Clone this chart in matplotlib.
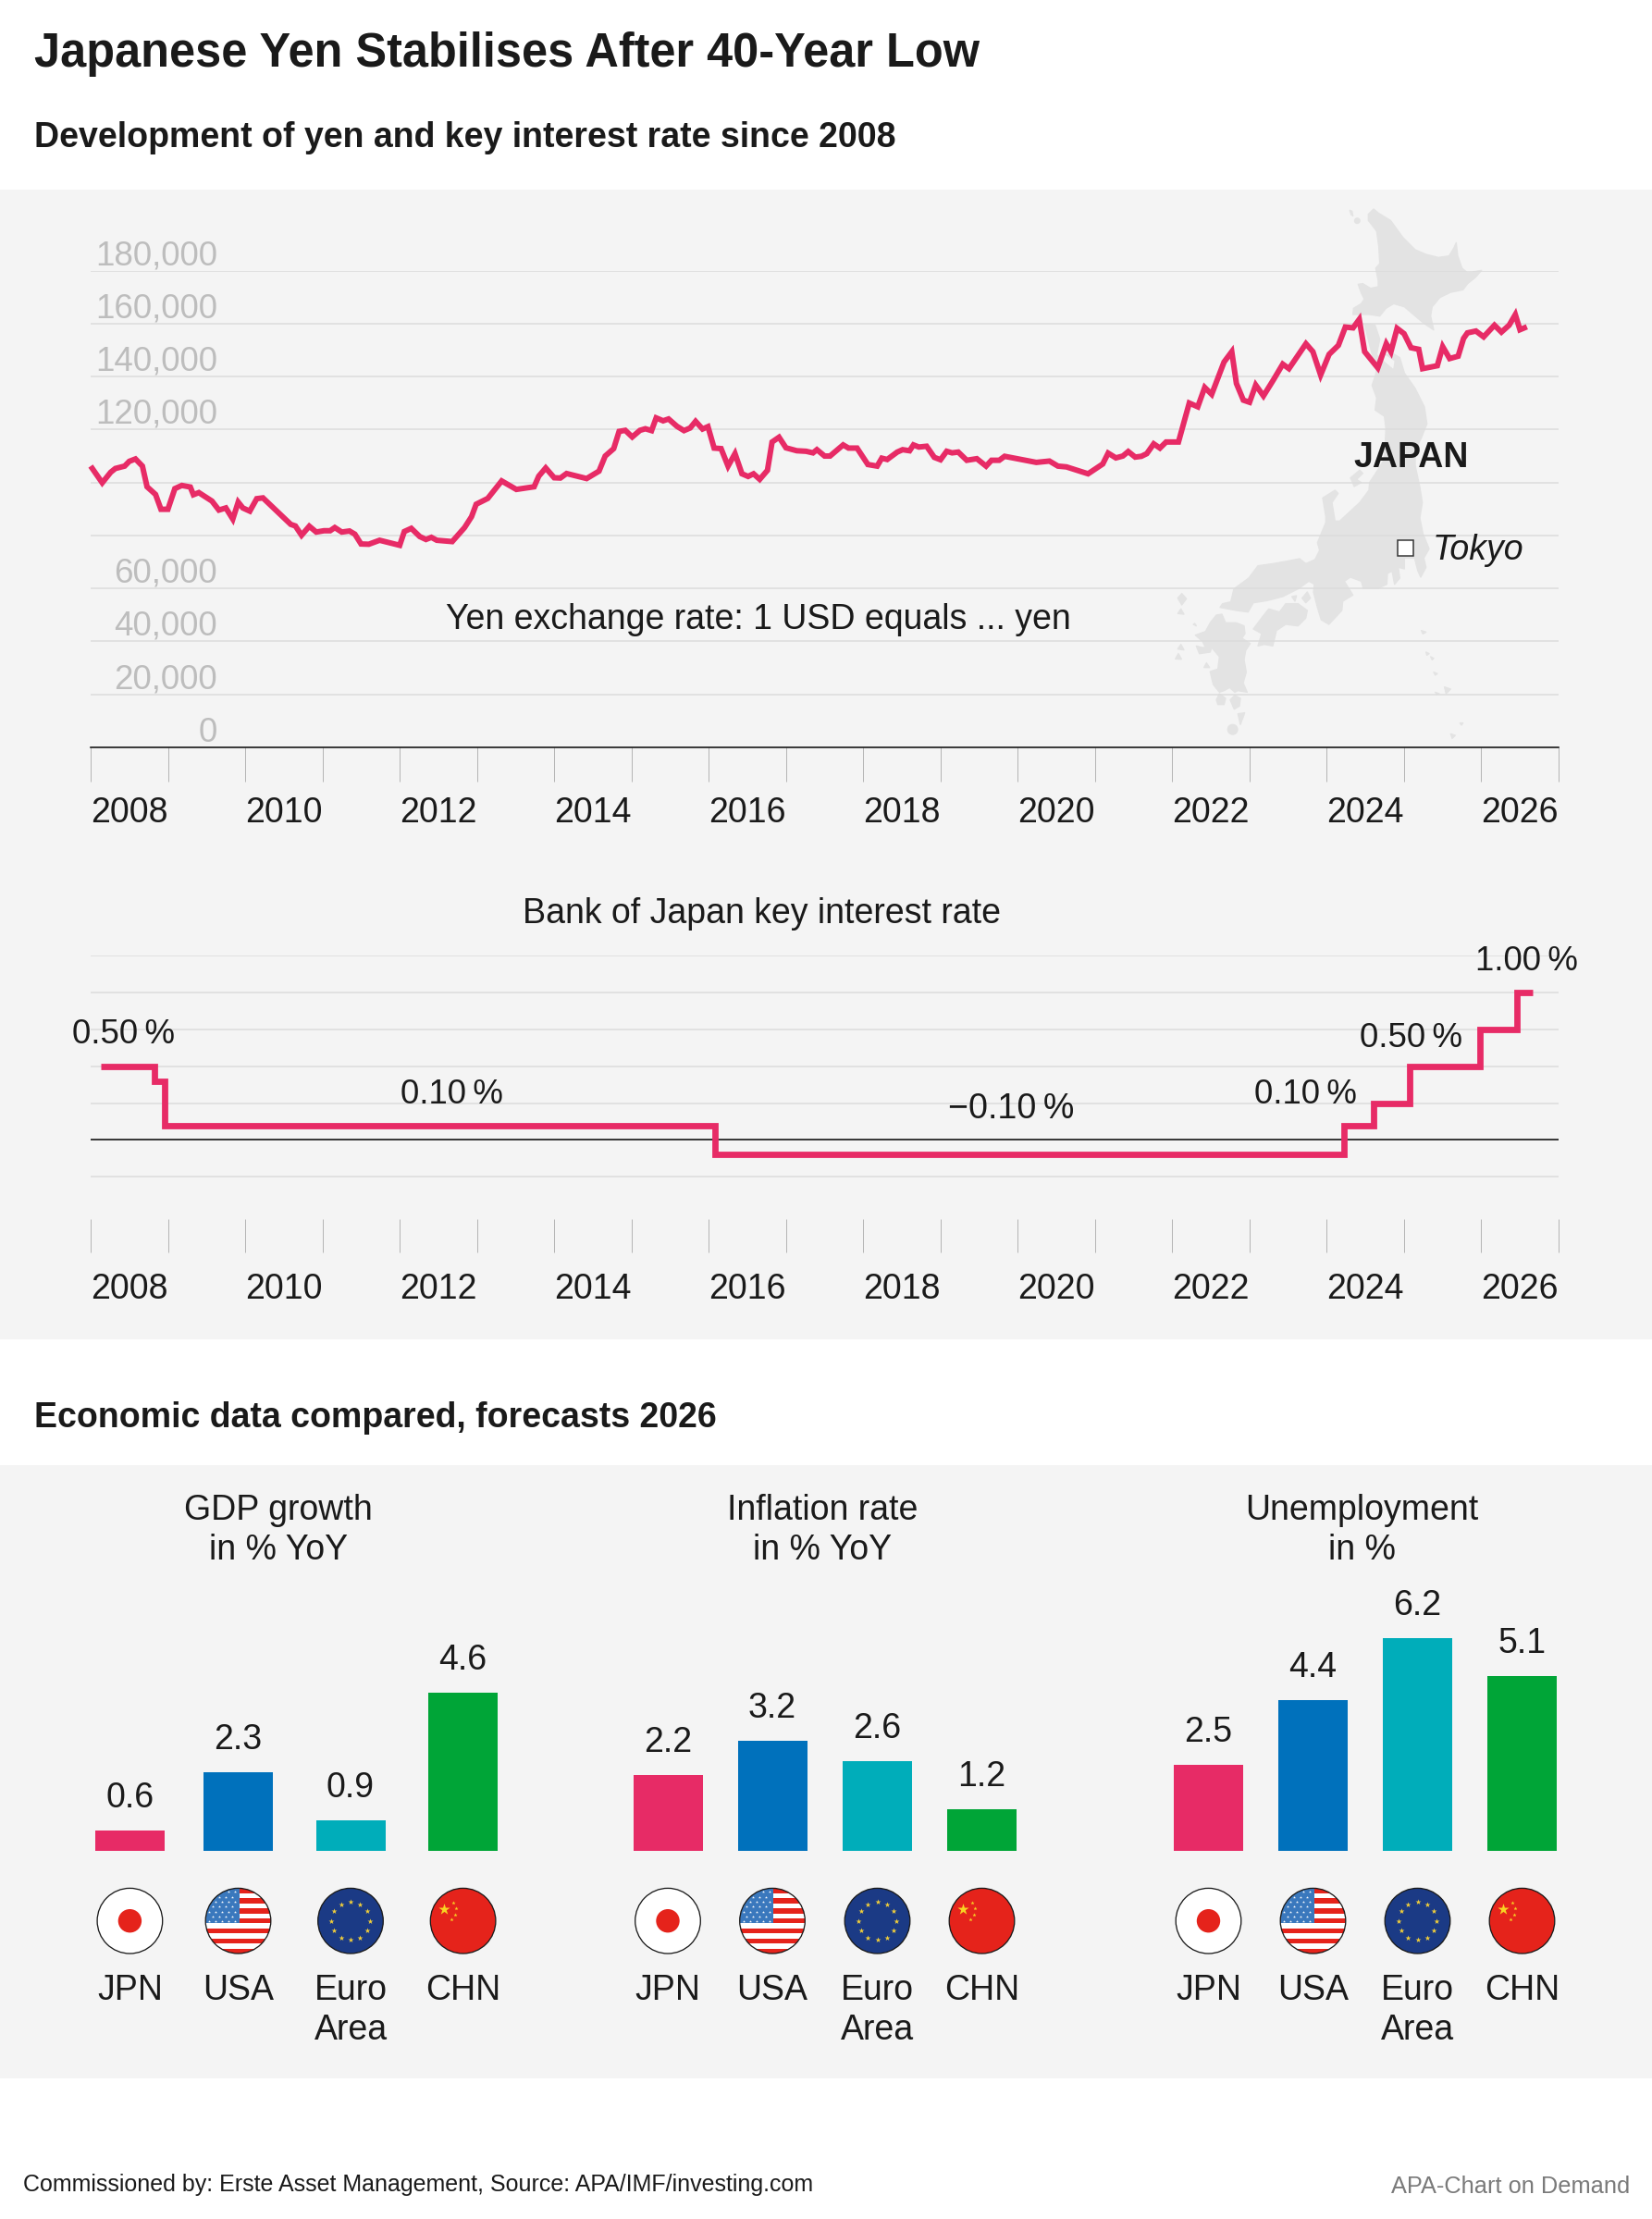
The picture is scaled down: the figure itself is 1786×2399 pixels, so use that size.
import numpy as np
import matplotlib
matplotlib.use("Agg")
import matplotlib.pyplot as plt
from matplotlib.patches import Polygon, Circle, Rectangle
from matplotlib.transforms import ScaledTranslation

plt.rcParams['font.family'] = ['Liberation Sans', 'DejaVu Sans']

# ---------- data ----------
yen_years = [2008.00,2008.15,2008.26,2008.32,2008.44,2008.50,2008.58,2008.67,2008.73,2008.84,2008.91,2009.00,
 2009.09,2009.18,2009.29,2009.33,2009.40,2009.57,2009.66,2009.75,2009.84,2009.91,2009.97,2010.06,2010.15,2010.23,
 2010.59,2010.65,2010.73,2010.83,2010.92,2011.02,2011.10,2011.16,2011.25,2011.35,2011.42,2011.50,2011.60,2011.74,
 2012.00,2012.06,2012.15,2012.26,2012.34,2012.41,2012.48,2012.68,2012.84,2012.93,2012.99,2013.14,2013.32,2013.51,
 2013.74,2013.80,2013.89,2014.00,2014.08,2014.16,2014.42,2014.58,2014.66,2014.77,2014.84,2014.92,2015.01,2015.11,
 2015.18,2015.26,2015.32,2015.41,2015.48,2015.59,2015.68,2015.76,2015.83,2015.92,2015.99,2016.07,2016.16,2016.25,
 2016.34,2016.43,2016.51,2016.58,2016.66,2016.76,2016.82,2016.91,2017.00,2017.14,2017.26,2017.35,2017.40,2017.50,
 2017.57,2017.74,2017.81,2017.92,2018.06,2018.18,2018.24,2018.31,2018.44,2018.51,2018.60,2018.65,2018.72,2018.82,
 2018.92,2019.00,2019.08,2019.15,2019.23,2019.34,2019.47,2019.59,2019.66,2019.76,2019.83,2020.24,2020.41,2020.52,
 2020.63,2020.91,2021.10,2021.17,2021.27,2021.36,2021.43,2021.52,2021.60,2021.67,2021.76,2021.84,2021.92,2022.08,
 2022.22,2022.33,2022.42,2022.51,2022.67,2022.77,2022.83,2022.92,2023.00,2023.08,2023.18,2023.31,2023.43,2023.51,
 2023.73,2023.82,2023.92,2024.03,2024.15,2024.24,2024.34,2024.42,2024.49,2024.66,2024.77,2024.83,2024.91,2025.00,
 2025.09,2025.19,2025.24,2025.43,2025.50,2025.59,2025.70,2025.77,2025.82,2025.93,2026.03,2026.17,2026.26,2026.36,
 2026.44,2026.50,2026.59]
yen_per_usd = [106.2,99.9,103.9,105.3,106.2,108.0,108.9,106.2,98.4,95.5,89.9,89.9,
 97.7,98.9,98.3,95.4,96.2,93.0,89.6,90.4,86.2,92.6,90.4,89.2,93.9,94.2,
 84.2,83.6,80.1,83.5,81.3,81.8,81.8,83.0,81.3,81.7,80.5,76.8,76.7,78.2,
 76.3,81.5,82.7,79.6,78.5,79.3,78.2,77.7,83.0,87.1,91.8,94.0,100.6,97.4,
 98.4,102.4,105.5,101.8,101.7,103.4,101.5,104.3,110.0,112.8,119.3,119.7,117.2,119.7,
 120.3,119.6,124.4,123.3,124.0,121.2,119.6,120.6,123.1,120.2,121.1,113.0,112.8,106.2,
 110.9,103.3,102.3,103.3,101.2,104.6,115.3,117.1,113.1,112.0,111.8,111.2,112.4,110.0,
 110.0,114.2,113.0,113.0,106.8,106.2,109.2,108.7,111.5,112.4,112.0,114.2,113.4,113.7,
 109.5,108.6,111.8,111.2,111.5,108.4,109.0,106.2,108.4,108.4,109.9,107.6,108.1,106.2,
 105.9,103.3,107.0,111.1,109.3,110.0,111.7,109.6,109.9,110.9,114.6,113.0,115.3,115.3,
 130.0,128.6,135.9,133.3,145.5,149.4,137.4,131.1,130.3,136.8,132.7,138.8,144.7,143.0,
 152.4,149.4,140.6,148.4,151.8,158.7,158.4,161.6,149.4,143.3,152.4,149.4,158.2,156.2,
 150.9,150.3,143.0,144.1,151.3,146.8,147.7,154.4,156.5,157.2,155.0,159.4,156.8,159.4,
 163.4,157.7,158.8]
yen_ticks = [0,20,40,60,80,100,120,140,160,180]
yen_tick_labels = ['0','20,000','40,000','60,000','','','120,000','140,000','160,000','180,000']

rate_years = [2008.13,2008.83,2008.96,2016.08,2024.22,2024.60,2025.07,2025.98,2026.46,2026.67]
rate_vals  = [0.50,0.40,0.10,-0.10,0.10,0.25,0.50,0.75,1.00,1.00]
rate_ticks = [-0.25,0,0.25,0.50,0.75,1.00,1.25]

year_edges = list(range(2008,2028))
label_years = list(range(2008,2027,2))

countries = ['JPN','USA','Euro\nArea','CHN']
gdp = [0.6,2.3,0.9,4.6]
inflation = [2.2,3.2,2.6,1.2]
unemployment = [2.5,4.4,6.2,5.1]

# ---------- layout / style ----------
W,H = 1786,2399
PINK,BLUE,TEAL,GREEN = '#e72b66','#0071bc','#00adba','#00a537'
BAR_COLORS = [PINK,BLUE,TEAL,GREEN]
TXT = '#1a1a1a'; PANEL = '#f4f4f4'; GRID='#dcdcdc'; TICK='#b5b5b5'; LAND='#e3e3e3'
PX = 72/100
X0,X1 = 98,1685
FS = 37.5
RL = 36.6

fig = plt.figure(figsize=(W/100,H/100),dpi=100,facecolor='white')

def rect(x0,y0,x1,y1,zorder=1):
    return fig.add_axes([x0/W,1-y1/H,(x1-x0)/W,(y1-y0)/H],zorder=zorder,facecolor='none')

bg = rect(0,0,W,H,zorder=0); bg.set_xlim(0,W); bg.set_ylim(H,0); bg.axis('off')
fg = rect(0,0,W,H,zorder=5); fg.set_xlim(0,W); fg.set_ylim(H,0); fg.axis('off')

bg.add_patch(Rectangle((0,205),W,1243,fc=PANEL,ec='none'))
bg.add_patch(Rectangle((0,1584),W,663,fc=PANEL,ec='none'))

def T(x,y,s,px=FS,ha='left',weight='normal',color=TXT,style='normal',**kw):
    return fg.text(x,y,s,fontsize=px*PX,ha=ha,va='baseline',fontweight=weight,color=color,fontstyle=style,**kw)

# ---------- map of Japan (outline in zoomed pixel units) ----------
def land(pts,ox,oy):
    xy=[(ox+a/3,oy+b/3) for a,b in pts]
    bg.add_patch(Polygon(xy,closed=True,fc=LAND,ec=LAND,lw=1,joinstyle='round'))
N=(1240,210); S=(1240,500)
hokkaido=[(718,65),(735,48),(752,62),(790,85),(830,140),(870,180),(905,195),(945,205),(980,200),(995,175),(1003,157),(1008,200),(1022,240),(1040,255),(1085,247),(1065,270),(1040,290),(1025,310),(985,318),(950,335),(925,365),(920,395),(930,440),(900,420),(870,395),(835,365),(800,355),(775,370),(755,395),(720,390),(695,390),(668,390),(670,370),(695,355),(705,340),(695,320),(685,292),(700,290),(725,305),(750,300),(750,280),(742,240),(755,225),(752,170),(745,120),(730,100),(718,85)]
land(hokkaido,*N)
honshu=[(705,420),(740,425),(755,470),(745,520),(770,545),(800,570),(805,540),(775,520),(800,518),(820,530),(835,580),(870,630),(900,690),(908,745),(890,790),(870,830),(870,880),(885,950),(893,1000),(885,1050),(895,1100),(915,1150),(898,1180),(905,1210),(888,1242),(878,1220),(868,1180),(835,1180),(835,1215),(815,1210),(820,1245),(803,1265),(795,1222),(780,1230),(778,1265),(750,1278),(702,1278),(695,1255),(660,1242),(640,1255),(668,1300),(635,1320),(632,1350),(590,1395),(565,1380),(553,1340),(540,1290),(543,1265),(525,1255),(490,1280),(440,1305),(390,1318),(345,1325),(328,1355),(290,1350),(237,1340),(245,1328),(272,1322),(282,1280),(330,1245),(360,1205),(410,1198),(455,1190),(495,1182),(515,1198),(545,1185),(560,1155),(553,1130),(580,1065),(580,1045),(570,985),(610,960),(620,970),(600,1000),(610,1060),(625,1060),(690,1000),(720,960),(722,935),(745,900),(770,860),(775,760),(770,720),(740,700),(745,660),(730,620),(740,590),(745,570),(725,500)]
land(honshu,*N)
shikoku=[(345,540),(375,500),(395,475),(430,485),(450,458),(490,458),(520,480),(515,505),(490,530),(450,525),(420,545),(408,595),(380,590),(360,595),(372,555)]
land(shikoku,*S)
kyushu=[(157,560),(190,548),(205,520),(225,495),(243,492),(255,520),(290,520),(315,530),(318,555),(308,570),(335,587),(320,610),(315,640),(322,680),(312,715),(325,745),(295,740),(285,745),(268,730),(250,740),(235,745),(215,720),(205,678),(230,670),(235,630),(210,600),(205,615),(170,620),(160,595),(178,600),(190,600),(180,580)]
land(kyushu,*S)
small_south=[[(100,440),(113,425),(128,442),(113,462)],[(100,490),(110,475),(120,492)],[(100,605),(110,590),(120,608)],
 [(92,637),(102,620),(112,638)],[(185,665),(193,650),(203,665)],[(150,525),(155,522),(160,530)],
 [(470,435),(485,432),(480,450)],[(503,440),(520,420),(530,440),(515,455)],[(295,815),(317,812),(303,850)],
 [(225,770),(235,750),(255,765),(250,785),(230,785)],[(270,770),(285,755),(303,765),(300,790),(283,800)],
 [(890,545),(905,550),(895,556)],[(905,615),(915,620),(908,625)],[(920,630),(930,635),(925,640)],[(930,680),(942,685),(935,690)],
 [(935,745),(948,750),(940,752)],[(965,728),(985,735),(970,750)],[(1015,845),(1025,845),(1020,852)],[(985,880),(1000,885),(990,895)]]
for p in small_south: land(p,*S)
land([(660,920),(690,895),(700,905),(680,925),(695,935),(672,948),(665,930)],*N)
land([(658,52),(665,55),(668,70),(662,66)],*N)
bg.add_patch(Circle((N[0]+682/3,N[1]+86/3),3.5,fc=LAND,ec='none'))
bg.add_patch(Circle((S[0]+278/3,S[1]+866/3),6,fc=LAND,ec='none'))

# ---------- yen chart ----------
ax = rect(X0,292.6,X1,808,zorder=2)
ax.set_xlim(2008,2027); ax.set_ylim(0,180)
for s in ax.spines.values(): s.set_visible(False)
ax.set_yticks(yen_ticks,labels=yen_tick_labels)
ax.grid(axis='y',color=GRID,lw=1.5*PX,zorder=1)
ax.tick_params(axis='y',length=0,pad=-137*PX,labelsize=36.8*PX,labelcolor='#bdbdbd')
down = ScaledTranslation(0,-1.5/100,fig.dpi_scale_trans)
for l in ax.get_yticklabels():
    l.set_va('bottom'); l.set_transform(l.get_transform()+down)
ax.set_xticks(year_edges)
ax.set_xticklabels(['']*len(year_edges))
ax.set_xticks([y+0.5 for y in label_years],labels=[str(y) for y in label_years],minor=True)
ax.tick_params(axis='x',which='major',length=37*PX,width=1*PX,color=TICK)
ax.tick_params(axis='x',which='minor',length=0,pad=53*PX,labelsize=FS*PX,labelcolor=TXT)
ax.axhline(0,color='#111111',lw=1.6*PX,zorder=2,clip_on=False)
ax.plot(yen_years,yen_per_usd,color=PINK,lw=6*PX,solid_joinstyle='miter',solid_capstyle='butt',zorder=3,clip_on=False)

T(482,679.5,'Yen exchange rate: 1 USD equals ... yen')
T(1463,505,'JAPAN',weight='bold')
T(1549,605,'Tokyo',style='italic')
fg.add_patch(Rectangle((1511,584),17,17,fc='white',ec='#333333',lw=1.5*PX))

# ---------- rate chart ----------
ax2 = rect(X0,1033,X1,1318,zorder=2)
ax2.set_xlim(2008,2027); ax2.set_ylim(-0.536,1.25)
for s in ax2.spines.values(): s.set_visible(False)
ax2.set_yticks(rate_ticks,labels=['']*len(rate_ticks))
ax2.grid(axis='y',color=GRID,lw=1.5*PX,zorder=1)
ax2.tick_params(axis='y',length=0)
ax2.set_xticks(year_edges); ax2.set_xticklabels(['']*len(year_edges))
ax2.set_xticks([y+0.5 for y in label_years],labels=[str(y) for y in label_years],minor=True)
ax2.tick_params(axis='x',which='major',length=36*PX,width=1*PX,color=TICK)
ax2.tick_params(axis='x',which='minor',length=0,pad=58*PX,labelsize=FS*PX,labelcolor=TXT)
ax2.axhline(0,color='#111111',lw=1.6*PX,zorder=2)
ax2.step(rate_years,rate_vals,where='post',color=PINK,lw=6.8*PX,solid_joinstyle='miter',solid_capstyle='butt',zorder=3,clip_on=False)

T(565,998,'Bank of Japan key interest rate')
T(133,1128,'0.50\u2009%',ha='center',px=RL)
T(488,1193,'0.10\u2009%',ha='center',px=RL)
T(1093,1209,'\u22120.10\u2009%',ha='center',px=RL+1)
T(1411,1193,'0.10\u2009%',ha='center',px=RL)
T(1526,1132,'0.50\u2009%',ha='center',px=RL)
T(1650,1049,'1.00\u2009%',ha='center',px=RL)

# ---------- headings ----------
T(37,72,'Japanese Yen Stabilises After 40-Year Low',px=50.5,weight='bold')
T(37,159,'Development of yen and key interest rate since 2008',px=37.5,weight='bold')
T(37,1543,'Economic data compared, forecasts 2026',px=37.5,weight='bold')

# ---------- bar charts ----------
PX_PER_UNIT = 37.15
BASE = 2001; TOP = 1750
panels = [
 (gdp,'GDP growth\nin % YoY',301,(60,600),[140.4,257.5,379,500.6]),
 (inflation,'Inflation rate\nin % YoY',889,(640,1140),[722,835,948.5,1061.5]),
 (unemployment,'Unemployment\nin %',1472,(1225,1725),[1306.5,1419.5,1532.5,1645.5]),
]

def star(x,y,s,c):
    fg.scatter([x],[y],s=s,marker='*',c=c,linewidths=0,zorder=6)

def clip_disc(cx,cy,r):
    return Circle((cx,cy),r,transform=fg.transData)

def flag(kind,cx,cy,r=35.3):
    if kind=='JPN':
        fg.add_patch(Circle((cx,cy),r,fc='white',ec='none',zorder=5))
        fg.add_patch(Circle((cx,cy),12.7,fc='#e5231b',ec='none',zorder=6))
    elif kind=='USA':
        fg.add_patch(Circle((cx,cy),r,fc='white',ec='none',zorder=5))
        disc=clip_disc(cx,cy,r)
        h=2*r/13
        for i in range(0,13,2):
            p=Rectangle((cx-r,cy-r+i*h),2*r,h,fc='#e5231b',ec='none',zorder=5.5)
            fg.add_patch(p); p.set_clip_path(disc)
        p=Rectangle((cx-r,cy-r),r+1,7*h,fc='#3a78bd',ec='none',zorder=5.6)
        fg.add_patch(p); p.set_clip_path(disc)
        for row in range(7):
            for col in range(5):
                sx=cx-r+4+col*7+(row%2)*3.5; sy=cy-r+4+row*5.3
                if (sx-cx)**2+(sy-cy)**2<(r-2)**2 and sx<cx:
                    star(sx,sy,5,'white')
    elif kind=='EUR':
        fg.add_patch(Circle((cx,cy),r,fc='#1b3a85',ec='none',zorder=5))
        for k in range(12):
            a=np.pi*k/6
            star(cx+20.7*np.cos(a),cy+20.7*np.sin(a),20,'#f2cf3a')
    else:
        fg.add_patch(Circle((cx,cy),r,fc='#e5231b',ec='none',zorder=5))
        star(cx-21,cy-12.7,85,'#f7d422')
        for dx,dy in [(-11,-19.7),(-8,-14),(-8.7,-7),(-12.7,-1.7)]:
            star(cx+dx,cy+dy,10,'#f7d422')
    fg.add_patch(Circle((cx,cy),r,fc='none',ec='#1a1a1a',lw=1.3*PX,zorder=7))

kinds=['JPN','USA','EUR','CHN']
for vals,title,tx,(c0,c1),centers in panels:
    a = rect(c0,TOP,c1,BASE,zorder=2)
    a.set_xlim(c0,c1); a.set_ylim(0,(BASE-TOP)/PX_PER_UNIT)
    for s in a.spines.values(): s.set_visible(False)
    bars = a.bar(centers,vals,width=75,color=BAR_COLORS)
    a.set_yticks([])
    a.set_xticks(centers,labels=countries)
    a.tick_params(axis='x',length=0,pad=133*PX,labelsize=FS*PX,labelcolor=TXT)
    for lab in a.get_xticklabels(): lab.set_linespacing(1.25)
    for b,v in zip(bars,vals):
        a.annotate(f'{v:.1f}',(b.get_x()+b.get_width()/2,v),xytext=(0,25),textcoords='offset pixels',
                   ha='center',va='baseline',fontsize=FS*PX,color=TXT,annotation_clip=False)
    T(tx,1686,title,ha='center',multialignment='center',linespacing=1.25)
    for k,cx in zip(kinds,centers):
        flag(k,cx,2076.7)

# ---------- footer ----------
T(25,2369,'Commissioned by: Erste Asset Management, Source: APA/IMF/investing.com',px=25.05)
T(1762,2371,'APA-Chart on Demand',px=25.4,ha='right',color='#7a7a7a')

fig.savefig('out.png',dpi=100,facecolor='white')
